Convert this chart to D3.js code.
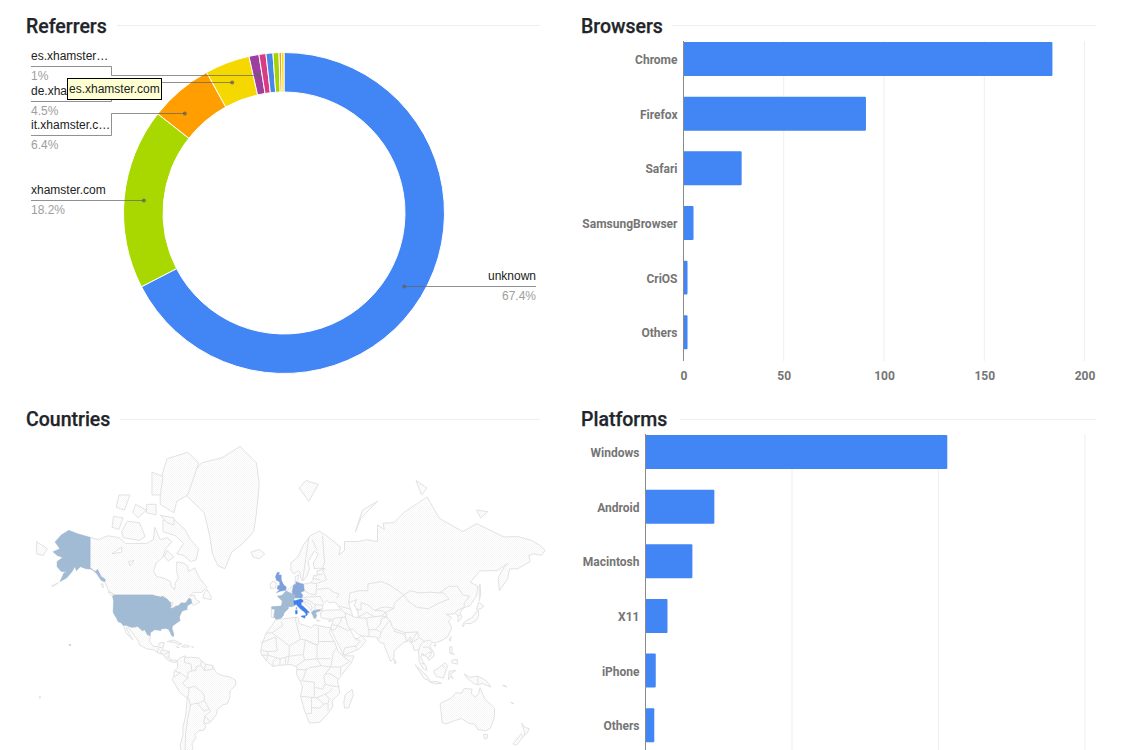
<!DOCTYPE html>
<html><head><meta charset="utf-8">
<script src="https://cdn.jsdelivr.net/npm/d3@7"></script>
<style>html,body{margin:0;background:#fff;overflow:hidden}svg{display:block}</style></head>
<body><svg id="c" width="1131" height="750"><defs><pattern id="hatch" width="2" height="2" patternUnits="userSpaceOnUse"><rect width="2" height="2" fill="#ffffff"/><rect width="1" height="1" fill="#f6f6f6"/><rect x="1" y="1" width="1" height="1" fill="#f6f6f6"/></pattern></defs></svg>
<script>
// ---------- data ----------
const panelTitles = ["Referrers","Browsers","Countries","Platforms"];
const referrerNames = ["unknown","xhamster.com","it.xhamster.c…","de.xhamster…","es.xhamster…","a","b","c","d","e"];
const referrerValues = [67.4,18.2,6.4,4.5,1,0.7,0.7,0.6,0.25,0.25];
const referrerLabels = ["67.4%","18.2%","6.4%","4.5%","1%"];
const referrerColors = ["#4285f4","#a8d800","#ff9e00","#f5d800","#9c3f9e","#d93c84","#4a86e8","#a4d400","#ff9e00","#f5d800"];
const calloutPercent = [33.7,76.5,87.55,94.0,97.1];
const browserNames = ["Chrome","Firefox","Safari","SamsungBrowser","CriOS","Others"];
const browserValues = [184,91,29,5,2,2];
const browserTicks = [0,50,100,150,200];
const platformNames = ["Windows","Android","Macintosh","X11","iPhone","Others"];
const platformValues = [206,47,32,15,7,6];
const platformTicks = [0,100,200,300];
const tooltipText = "es.xhamster.com";

// lon/lat outlines
const countryNames = ["United States","Alaska","Hawaii","United Kingdom","Germany","France","Corsica","Spain","Italy","Sardinia","Sicily","Greece"];
const countryLevels = [1,1,1,4,3,1,1,1,10,10,10,1.2];
const usa = [[-124.7,48.4],[-123,49],[-95.2,49],[-94.6,48.7],[-89.6,48],[-88.4,48.3],[-84.9,46.9],[-83.5,45.8],[-82.5,45.3],[-82.1,43.6],[-82.9,42],[-79,42.8],[-79,43.3],[-76.5,43.6],[-75,45],[-71.5,45],[-70.3,46.2],[-69.2,47.4],[-67.8,47.1],[-67,44.9],[-70,43.7],[-70.7,42],[-70,41.7],[-74,40.7],[-75.5,38.5],[-76,36.9],[-75.5,35.3],[-78,33.9],[-81,32],[-81.4,30.5],[-80.1,26.8],[-80.4,25.2],[-81.8,26],[-82.8,28],[-84,30],[-86,30.4],[-89.5,30.2],[-89.4,29],[-91,29.3],[-94,29.6],[-97.2,27.7],[-97.2,25.9],[-99.2,26.4],[-101.4,29.8],[-103,29],[-104.9,30.6],[-106.5,31.8],[-108.2,31.4],[-111,31.3],[-114.8,32.5],[-117.1,32.5],[-118.5,34],[-120.6,34.6],[-122,36.9],[-123.8,39.3],[-124.3,40.4],[-124.1,43],[-124,46.3]];
const alaska = [[-141,69.6],[-141,60.3],[-137.5,58.9],[-135.5,59.7],[-133,57],[-130,55.9],[-130.5,54.8],[-133,55.5],[-136,58],[-139.5,59.8],[-144,60],[-148,60.7],[-151,59.3],[-152,60.8],[-154,59],[-158,56.5],[-163,54.9],[-160,58.5],[-157,58.8],[-162,59],[-165,60.7],[-165,62.5],[-161,63.8],[-165,64.5],[-168,65.6],[-163,66.5],[-166.5,68.4],[-162,70.2],[-156.5,71.3],[-150,70.5]];
const hawaii = [[-156,20.2],[-155,19.7],[-155.7,19],[-156,19.8]];
const uk = [[-5.5,50.1],[-3,50.7],[1.3,51.2],[1.7,52.7],[0,53.4],[-1.5,55],[-2,55.9],[-2,57.6],[-4,57.7],[-3.2,58.6],[-5,58.6],[-6.2,57],[-5.5,55.5],[-3.2,54.9],[-3,53.5],[-4.5,53.2],[-5,51.8],[-3.2,51.4]];
const germany = [[6.1,50.9],[7,53.5],[8.8,54],[8.6,55],[10,54.6],[12,54.2],[14.2,53.9],[14.8,51],[12.2,50.3],[13.7,48.8],[13,47.5],[7.6,47.6],[8.2,49],[6.2,49.5]];
const france = [[-1.8,43.4],[-1.2,46],[-4.7,48.4],[-1.6,48.7],[1.6,50.9],[4.2,50],[6.2,49.5],[8.2,49],[7.6,47.6],[6.9,46.2],[7.6,43.8],[6,43.1],[3.2,43.2],[3,42.4],[0.7,42.7]];
const corsica = [[8.6,42.4],[9.4,43],[9.5,42],[9.2,41.4],[8.7,41.7]];
const spain = [[-9,43],[-1.8,43.4],[0.7,42.7],[3,42.4],[3,42],[0,39.8],[-0.5,38.3],[-2,36.8],[-5.5,36],[-7.3,37.2],[-7,39.5],[-6.5,41.7],[-8.8,42]];
const italy = [[7.6,43.8],[6.9,46.2],[8.5,46.3],[12.2,47],[13.7,46.5],[13.7,45.6],[12.4,45.4],[12.5,44],[13.8,43.3],[16,41.8],[18.4,40],[16.9,39.9],[17,39],[16,38],[15.8,39.5],[14,40.8],[12.3,41.7],[10.5,43],[8.8,44.4]];
const sardinia = [[8.2,41],[9.7,41],[9.6,39.2],[8.5,39]];
const sicily = [[12.5,38],[15.6,38.2],[15.1,36.7],[12.6,37.6]];
const greece = [[20,39.7],[21,40.8],[24,41.3],[26.3,41.5],[26,40.8],[23.5,40.2],[22.8,39.3],[24,38],[23,37.4],[23,36.5],[21.6,36.9],[21.2,38.3]];
const countryRings = [usa,alaska,hawaii,uk,germany,france,corsica,spain,italy,sardinia,sicily,greece];

const canada = [[-141,69.6],[-135,69],[-128,70],[-120,69.5],[-115,68],[-108,68],[-100,68],[-95,69],[-94,72],[-90,69],[-85,69.5],[-81.5,68.5],[-86,66.5],[-88,64],[-93,62],[-94.8,59],[-92.5,57],[-88,56.5],[-82.5,55],[-82,52.9],[-79.5,51.5],[-79,54.5],[-76.8,56.5],[-78,58.8],[-78,62.4],[-73,62],[-70,61],[-69.5,59],[-65,60.3],[-61.5,56.5],[-56,52.5],[-60,50.2],[-66,50.2],[-69,48.5],[-65,49],[-64.5,47],[-61,45.5],[-66,43.7],[-67,44.9],[-67.8,47.1],[-69.2,47.4],[-70.3,46.2],[-71.5,45],[-75,45],[-76.5,43.6],[-79,43.3],[-79,42.8],[-82.9,42],[-82.1,43.6],[-82.5,45.3],[-83.5,45.8],[-84.9,46.9],[-88.4,48.3],[-89.6,48],[-94.6,48.7],[-95.2,49],[-123,49],[-127,50.5],[-130,54.5],[-130,55.9],[-133,57],[-135.5,59.7],[-137.5,58.9],[-141,60.3]];
const arctic = [
 [[-80,73.7],[-72,71.5],[-68,69],[-62,66.5],[-64,63],[-68,62.5],[-73,64.5],[-78,65],[-73,68],[-79,70],[-88,71],[-88,73.5]],
 [[-117,69.5],[-105,68.8],[-101,69.8],[-105,73],[-114,73.3],[-118,71]],
 [[-125,72],[-120,71.5],[-117,74],[-124,74.3]],
 [[-90,76.5],[-80,75],[-78,77],[-70,78],[-62,82],[-70,83],[-85,82.4],[-90,80]],
 [[-100,75],[-93,74.6],[-93,76.5],[-100,76.5]],
 [[-110,75],[-106,74],[-100,75.5],[-108,76.5]],
 [[-122,76],[-116,75.5],[-112,78],[-120,78]],
 [[-96,78],[-90,78],[-88,80.5],[-96,81]],
 [[-59,47.6],[-53,46.7],[-53,48.5],[-56,51.5],[-58,50]],
 [[-128,50.5],[-125,50],[-123.5,48.5],[-125.5,48.7]],
 [[-133,54],[-131.5,54],[-131.5,52.2]],
 [[-85,73],[-80,72.5],[-80,74],[-90,74.5]],
 [[-85,66],[-80,64],[-84,62.7],[-87,64]]
];
const greenland = [[-73,78.3],[-68,80.5],[-60,82],[-45,82.5],[-32,83.5],[-20,82],[-18,79.5],[-20,75],[-22,71],[-30,68],[-38,65.5],[-43,60],[-48,61],[-52,65],[-54,70],[-58,75]];
const centralAmerica = [[-117.1,32.5],[-114.8,32.5],[-111,31.3],[-108.2,31.4],[-106.5,31.8],[-104.9,30.6],[-103,29],[-101.4,29.8],[-99.2,26.4],[-97.2,25.9],[-97.8,22.3],[-95,18.6],[-91.5,18.5],[-90.5,21],[-87,21.4],[-88.5,16],[-83.3,15],[-83.7,11],[-81.5,9],[-77.4,8.7],[-78.2,7.5],[-80.5,7.3],[-83,8.3],[-85.7,10],[-87.7,13],[-91.5,14],[-94.5,16.2],[-100,17],[-105.5,20],[-105.5,22],[-109,26],[-113,31],[-114.7,30.8],[-112,26.5],[-109.8,23],[-112,24.8],[-115,28],[-116,31]];
const caribbean = [[[-84.8,22],[-80,23],[-74.2,20.2],[-77.5,19.9],[-78.5,21]],[[-74.4,18.5],[-71.5,19.8],[-68.4,18.5],[-71,18]],[[-78.3,18.4],[-76.3,18.2],[-77,17.8]],[[-67.2,18.4],[-65.7,18.3],[-66,18]]];
const southAmerica = [[-77.4,8.7],[-75.5,10.7],[-72,12],[-71.5,10.8],[-68,11],[-62,10.7],[-60,8.5],[-57,6],[-52,5],[-50,1],[-48,-1],[-44,-2.5],[-40,-3],[-35.3,-5.5],[-35,-9],[-39,-13],[-39.5,-18],[-41,-22],[-44.5,-23],[-48.5,-26],[-49,-29],[-53.5,-34],[-56,-34.8],[-58.4,-34.2],[-57,-36.5],[-58,-38.5],[-62,-39],[-65,-41],[-64,-42.5],[-67,-46],[-66,-48],[-69,-51],[-68.5,-52.5],[-74,-52],[-75.5,-47],[-73.5,-41],[-73.5,-37],[-71.5,-30],[-70.3,-18.5],[-76,-14],[-81.2,-5],[-80,-2.5],[-80,0.8],[-78.5,2],[-77.3,4],[-77.5,7]];
const africa = [[-6,35.8],[10,37.3],[11,33.5],[15.5,32.3],[20,31],[22,32.8],[32,31],[34.2,31.2],[33,28],[37,21],[39.5,15],[43,12],[51,12],[49,7],[42,-1.5],[39,-6],[40.5,-15],[35,-20],[35.5,-24],[32.5,-28],[26,-34],[18.5,-34.5],[15,-27],[12,-17],[13.5,-10],[9,-1],[9.5,4],[5,5.8],[-4,5.2],[-8,4.4],[-13,8.5],[-17,14.7],[-16,20],[-13,27.5],[-9.5,31.5]];
const eurasia = [[-9,43],[-1.8,43.4],[-1.2,46],[-4.7,48.4],[-1.6,48.7],[1.6,50.9],[4,52],[8,54],[8.2,57],[10.6,57.7],[10,55],[12,54.2],[14.2,53.9],[19,54.4],[21,55.5],[21.5,57.5],[24,57.2],[24,59.3],[28,59.7],[30,60],[25,60.2],[22,60],[21.3,62],[25,65],[22,65.8],[17.5,62.5],[18.5,60],[16.5,57],[14.3,55.5],[12.8,55.5],[11.2,58.9],[10.6,59.2],[7,58],[5,59.5],[5,62],[10,64],[14,67.5],[19,70],[25.7,71.1],[31,70],[41,67],[40,64.7],[44,66],[44,68.5],[54,68.5],[60,69],[68,68.5],[68,72.5],[73,71.5],[72,72.9],[80,73],[87,75],[104,77.7],[113,73.9],[130,71],[140,72.8],[160,69.7],[170,69.8],[180,68.8],[186,67.5],[190,66],[187,64.5],[182,65],[178,64.5],[179,62.5],[170,60],[164,59.9],[162.5,56],[156.7,51],[155.6,56.5],[160,60.5],[163,62],[155,59.3],[142.5,59.2],[135.5,54.7],[141,53],[140,48.5],[135,43.5],[131,42.7],[128,40],[129.4,37],[126.5,34.5],[126.5,37.7],[125,39.5],[121.5,39],[118,39],[122,37],[119.5,35],[122,31],[119,25],[114,22.3],[110,21],[108,21.5],[106,19],[109,14],[109,11.5],[105,8.8],[104.8,10.5],[100.5,13.5],[99.5,10.5],[103.5,4],[104,1.5],[101,3],[98.3,8],[97.8,16],[94.5,16],[94,19],[91,22.5],[87,21.3],[80,15.5],[80,10.5],[77.5,8],[73,19],[72.5,21],[70,21],[67,25],[61.5,25.2],[57,25.7],[54,26.7],[50,30],[48,30],[50,26.5],[51.5,24],[54,24],[56.3,26],[59.8,22.5],[55,17],[45,13],[43,13],[39,21],[35,28],[34.2,31.2],[36,36],[30,36.3],[27,37],[26.5,40],[29,41],[31.5,41.2],[36,41.3],[41.5,41.5],[39,44],[37.5,45.3],[35,45.5],[33,45],[31,46.5],[28.5,44.5],[28,41.5],[26,40.8],[24,40.8],[23,36.5],[21.5,37],[19.5,41],[19,42.2],[14,45.2],[12.4,45.4],[12.5,44],[16,41.8],[18.4,40],[16.5,38],[15.7,40],[12.5,41.5],[10.5,43],[8.8,44.4],[6,43.1],[3.2,43.2],[3,42],[0,39.8],[-0.5,38.3],[-2,36.8],[-5.5,36],[-6.5,37],[-9,37],[-9.3,39]];
const islands = [
 [[-179.9,68.5],[-172,66.5],[-175,64.5],[-179.9,65]],
 [[-24,65.5],[-18,66.3],[-14,65],[-18,63.4],[-22.5,64]],
 [[-10,52],[-6,52.2],[-5.6,54.6],[-8,55.2],[-10,54]],
 [[44.5,-16],[49.5,-12.2],[50.4,-16],[47,-25],[44,-25],[43.5,-21]],
 [[113.5,-22],[114,-26],[115,-34.3],[118,-35],[124,-33],[129,-31.7],[135,-34.8],[138.5,-35],[141,-38.2],[146.5,-39],[150,-37.5],[153,-31],[153,-25],[146,-19],[142.5,-11],[141.5,-15],[139,-17.5],[136,-15],[136.8,-12],[131,-11.5],[129,-15],[125,-14.5],[122,-18]],
 [[145,-41],[148,-41],[147.8,-43],[146,-43.5]],
 [[172.7,-34.5],[175,-37],[178.4,-37.8],[176.5,-40.5],[175,-41.5],[174.5,-38.8]],
 [[172.5,-40.7],[174.2,-41.8],[171,-45],[169,-46.7],[166.5,-46],[170.5,-42.5]],
 [[95.3,5.6],[104,-2.5],[106,-6],[102,-4.5],[98.5,1]],
 [[105.5,-6.8],[111,-6.5],[114.5,-7.8],[110,-8.2]],
 [[109,1.5],[112,3],[117,7],[119,5],[117.5,1],[116,-4],[111,-3],[109.5,-1]],
 [[119.5,-5.5],[120,0.8],[125,1.5],[121,-1],[123,-4.5],[121,-3]],
 [[131,-1],[135,-3.5],[141,-2.6],[147,-6],[150.5,-10.5],[144,-7.8],[141,-9],[138,-8],[133,-4]],
 [[120.5,18.5],[122.2,18.2],[122,14],[124,13],[120.5,14]],
 [[122,9],[126,9.5],[126,6],[122,7]],
 [[130,31.5],[131.5,33.5],[136,33.5],[140,35.5],[141.5,38],[141.5,41],[140,40.5],[136.5,36.8],[132,35],[129.8,33]],
 [[140,41.6],[141.5,45.4],[145.3,43.4],[143,42]],
 [[142,46],[143,49.5],[142.5,54],[142,52]],
 [[120.2,23],[121.5,25.2],[121,22.2]],
 [[108.8,19.3],[110.5,20],[110,18.4]],
 [[80,9.7],[81.8,7.5],[80.5,6]],
 [[52,71],[56,74],[68,77],[57,75.5],[54,73]],
 [[11,79],[16,80],[25,79.5],[18,77]],
 [[96,80],[104,79],[100,78]],
 [[140,75.5],[148,75.2],[143,74]],
 [[32.3,35],[34.5,35.5],[33.5,34.6]],
 [[23.5,35.5],[26.3,35.3],[24.5,34.9]],
 [[-169,53],[-166,54],[-164,54.5],[-168,53]],
 [[-178,-17.5],[-177,-17],[-177.5,-18.5]],
 [[160,-9],[162,-10.5],[159,-9.5]],
 [[165,-21],[167,-22],[165.5,-21.8]]
];
const caspian = [[47,45],[53,46.8],[51,44],[54,40],[54,37],[50,37.5],[49,40.5]];
const greatLakes = [[[-92,46.8],[-88,48.5],[-84.8,47],[-87,46.5]],[[-87.5,42],[-86.2,44],[-85,46],[-88,44.5]],[[-84,43.7],[-81,45.5],[-81.5,43.3]],[[-112,61],[-109,62.8],[-113,62.5]],[[-125,65],[-118,67],[-118,65.5]]];
const borders = [
 [[-92.2,14.5],[-91,17.8],[-89,17.9],[-88.3,18.5]],[[-89.2,15.9],[-89.8,14],[-87.8,13.4]],[[-83.2,14.9],[-87,13]],[[-85.7,11],[-83.7,11]],[[-83,8.3],[-82.7,9.5]],
 [[-72,12],[-72.5,7.5],[-67.5,6],[-67,1.2],[-70,0],[-69.8,-4.2]],[[-60,8.5],[-60.7,5.2],[-64,4],[-64,1.5],[-67,1.2]],[[-57,6],[-58,1.5],[-52,2.3],[-52,5]],[[-60.7,5.2],[-58,1.5]],[[-80,-3.4],[-75.5,-0.2],[-77.8,0.4],[-79,1.6]],[[-75.5,-0.2],[-70,-4.2],[-74,-7.5],[-70.5,-11],[-69,-11],[-69.5,-16],[-70.3,-18.5]],[[-69,-11],[-65,-10],[-60,-13.7],[-58,-16.5],[-57.8,-20],[-54.5,-25.5],[-53.5,-27.2],[-57.5,-30.2],[-53.4,-33.8]],[[-69.5,-18],[-68,-23],[-65,-22],[-62.6,-22],[-58,-20]],[[-62.6,-22],[-58,-27.2],[-54.5,-25.5]],[[-68,-23],[-70.2,-33],[-71.5,-40],[-72,-50],[-69,-52]],[[-58.4,-34],[-57.5,-30.2]],
 [[-2,35],[-1.2,32.2],[-8.7,27.7],[-13,27.5]],[[-8.7,27.7],[4,19],[12,23.5],[10,30],[8,37]],[[-17,21],[-6,25],[-5,15.5],[-12,15],[-16.5,16]],[[-11.5,12.5],[-5,10.5],[-2.8,10],[1,11],[3.6,11.7],[4,19]],[[-12,15],[-11.5,12.5],[-13,8.5]],[[-16.7,12.4],[-11.5,12.5]],[[-8,4.4],[-8,8],[-5,10.5]],[[-3,5],[-2.8,10]],[[1,6],[1,11]],[[2.7,6.3],[3.6,11.7],[14,13]],[[14,13],[15.5,23],[24,19.5],[24,10],[15,9],[14,13]],[[12,23.5],[15.5,23],[24,19.5],[25,20],[25,31.5]],[[25,22],[37,22]],[[24,10],[27,5],[34,4],[36,14.5],[38.5,18]],[[24,10],[34,10]],[[8.7,4.5],[15,9]],[[9.5,2.2],[16,2],[18.5,3.5],[27,5]],[[16,2],[14,-4.5],[12.2,-6]],[[13,-6],[22,-7],[22,-11],[24,-11],[28,-12],[30,-8.5],[29,-3],[30,-1],[34,4]],[[34,4],[41,4],[48,8],[43,11.5]],[[41,4],[41,-1.6]],[[34,-1],[39.2,-4.7]],[[30,-1],[34,-1]],[[30,-8.5],[34,-9.5],[40.4,-10.5]],[[12,-17],[22,-18],[24,-18],[30,-15.5],[33,-14],[35,-11.5]],[[22,-11],[22,-18]],[[20,-18],[20,-28.5],[16.5,-28.5]],[[24,-18],[29,-22.3],[26,-25],[20,-24.8]],[[29,-22.3],[32,-22],[33,-19],[30,-15.5]],[[32,-22],[32,-26.8]],
 [[-7.3,37.2],[-7,39.5],[-6.5,41.7],[-8.8,42]],[[4.2,50],[6.1,50.9],[7,53.5]],[[14.8,51],[18.8,49.5],[23,49],[23.5,51.5],[23.8,54.2],[19.5,54.4]],[[13,47.5],[17,48],[22.5,48.2],[26.5,48.2],[28.2,45.5]],[[13.7,46.5],[16.2,46.8],[19,46],[22.5,44.2],[22.5,41.3],[21,40.8]],[[22.5,44.2],[28.5,43.8]],[[22.5,41.3],[26.3,41.6],[28,42]],[[19.5,41],[20.6,42.5],[19,44.5],[16,45.5],[13.7,45.6]],[[13.5,55.3],[18,69.5]],[[20.5,69],[24,66]],[[28,70],[29.5,62],[28,60.4]],[[24,57.8],[28,57.8]],[[21,56.3],[26.5,55.7]],[[23.5,51.5],[32,52.2],[36,50.3],[40,49.5],[38.2,47.2]],[[23.8,54.2],[31,55.7],[28,59.7]],
 [[26.3,41.6],[26,40.8]],[[36,36.6],[42,37.2],[44.8,37.2],[44.5,39.7],[48.8,38.4]],[[44.5,39.7],[41.5,41.5]],[[40,43.4],[48.5,41.8]],[[42,37.2],[41,34.3],[39,32.3],[36,32.5],[35.5,33.5]],[[39,32.3],[46.5,29],[48,30]],[[44.8,37.2],[46,33],[48,30]],[[48.8,38.4],[50,37.5]],[[54,37],[60,36.7],[61,31.5],[62,29.4],[61.5,25.2]],[[60,36.7],[65,37.5],[71,38],[74.8,37.3]],[[61,29.5],[66.5,29.8],[70,33],[71,36.5],[74.8,37.3]],[[66.5,29.8],[70.5,28],[74,32.5],[77,35.5],[74.8,37.3]],[[70.5,28],[69.5,24.3],[68.2,23.8]],[[43,13],[44,17.5],[52,19],[55.6,22],[51.5,24]],[[52,19],[53,16.6]],[[35,29.5],[37,29.5],[39,32.3]],
 [[53,42],[56,41.3],[56,45.2],[61,44],[66,41],[70,42.5],[74,43],[80,42.2]],[[53,42],[54,40]],[[54,37.3],[60,40],[66,37.5]],[[66,41],[71,41],[74,40],[71,38]],[[47,45],[48,50],[55,51],[61,51],[61,54],[71,55],[77,53.5],[83,51],[87,49]],[[87,49],[80,45],[80,42.2],[74,40],[74.8,37.3]],[[87,49],[92,51],[98,50],[106,50.3],[113,50],[120,53],[126,53],[130,49],[135,48.5],[131,45],[131,42.7]],[[87,49],[91,45.5],[97,42.7],[105,42],[112,44.8],[120,47],[116,50],[113,50]],[[77,35.5],[79,31],[81,30],[88,27.8],[97,28.3],[98.5,24.5],[102,22],[106,23],[108,21.5]],[[81,30],[80,28.7],[88,26.5],[88,27.8]],[[88,26.5],[89,22],[92,25],[92.5,21],[94,24],[97,28.3]],[[92.5,21],[98.5,24.5]],[[98,16],[99.5,20],[101,21.5],[102,22]],[[101,18],[105,18.2],[107.5,15],[106,11.5],[104.8,10.5]],[[100,13],[102.5,12],[105,14.3],[107.5,14.7]],[[100,6.5],[102,6.2]],[[131,42.7],[127,41.5],[124.4,40]],[[126.2,38],[128.5,38.6]],[[115,5],[116,4.2],[117,4]],[[141,-2.6],[141,-9]]
];
const landRings = [canada,greenland,centralAmerica,southAmerica,africa,eurasia].concat(arctic,caribbean,islands);

// ---------- drawing ----------
const svg = d3.select("#c");
const titleFont = "Roboto, sans-serif";
const titleX = [26,581,26,581], titleY = [32.5,32.5,425.5,425.5], ruleStart=[117,672,120,680], ruleEnd=[540,1096,540,1096], ruleY=[25.5,25.5,419.5,419.5];
panelTitles.forEach((t,i)=>{
  svg.append("line").attr("x1",ruleStart[i]).attr("x2",ruleEnd[i]).attr("y1",ruleY[i]).attr("y2",ruleY[i]).attr("stroke","#eeeeee");
  svg.append("text").attr("x",titleX[i]).attr("y",titleY[i]).text(t)
     .attr("font-family",titleFont).attr("font-weight",500).attr("font-size",19.5).attr("fill","#212529")
     .attr("stroke","#212529").attr("stroke-width",0.25);
});

// map
const mapScale = 78.8;
const projection = d3.geoMercator().scale(mapScale).translate([284,672.5]);
// Chukotka runs past the antimeridian in the reference, so longitudes over 180 stay on the east side
const place = p => {
  if (p[0] <= 180) return projection(p);
  const q = projection([p[0]-360,p[1]]);
  return [q[0]+2*Math.PI*mapScale,q[1]];
};
const ringPath = r => d3.line()(r.map(place))+"Z";
const open = r => d3.line()(r.map(place));
const map = svg.append("g");
const coast = "#e2e2e2";
map.selectAll("path.land").data(landRings).join("path").attr("class","land").attr("d",ringPath)
   .attr("fill","url(#hatch)").attr("stroke",coast).attr("stroke-width",1).attr("stroke-linejoin","round");
map.selectAll("path.inner").data([caspian].concat(greatLakes)).join("path").attr("class","inner").attr("d",ringPath)
   .attr("fill","#ffffff").attr("stroke",coast).attr("stroke-width",1);
map.selectAll("path.border").data(borders).join("path").attr("class","border").attr("d",open)
   .attr("fill","none").attr("stroke",coast).attr("stroke-width",1);
const mapColor = d3.scaleLinear().domain([1,4,10]).range(["#a2bbd5","#7b9fdc","#3f7ff0"]);
map.selectAll("path.hot").data(countryRings).join("path").attr("class","hot").attr("d",ringPath)
   .attr("fill",(d,i)=>mapColor(countryLevels[i])).attr("stroke",(d,i)=>d3.color(mapColor(countryLevels[i])).darker(0.15)).attr("stroke-width",0.4);

// donut
const cx=284, cy=213, rO=160.5, rI=121;
const pie = d3.pie().sort(null).value(d=>d);
const arc = d3.arc().innerRadius(rI).outerRadius(rO);
const donut = svg.append("g").attr("transform",`translate(${cx},${cy})`);
donut.selectAll("path").data(pie(referrerValues)).join("path").attr("d",arc)
  .attr("fill",(d,i)=>referrerColors[i]).attr("stroke","#fff").attr("stroke-width",1);
const pctAngle = d3.scaleLinear().domain([0,100]).range([0,2*Math.PI]);
const anchor = p => arc.centroid({startAngle:pctAngle(p),endAngle:pctAngle(p)});
const labelLineY = [286,200,135,101,66];
const labelLeft = 31, labelElbow = 111, labelRight = 536;
const lines = svg.append("g");
calloutPercent.forEach((p,i)=>{
  const [ax,ay]=anchor(p), x=ax+cx, y=Math.round(ay+cy)+0.5, ly=labelLineY[i]+0.5;
  const right = i===0;
  const pts = right ? [[x,y],[labelRight,y]]
    : Math.abs(ly-y)<1.5 ? [[x,y],[labelLeft,y]]
    : [[x,y],[labelElbow+0.5,y],[labelElbow+0.5,ly],[labelLeft,ly]];
  lines.append("path").attr("d",d3.line()(pts)).attr("fill","none").attr("stroke","#636363").attr("stroke-opacity",.7);
  lines.append("circle").attr("cx",x).attr("cy",y).attr("r",2).attr("fill","#636363").attr("fill-opacity",.8);
  const tx = right?labelRight:labelLeft, anchorName = right?"end":"start";
  lines.append("text").attr("x",tx).attr("y",ly-6.5).attr("text-anchor",anchorName).text(referrerNames[i])
    .attr("font-family","Arial, 'Liberation Sans', sans-serif").attr("font-size",12).attr("fill","#222");
  lines.append("text").attr("x",tx).attr("y",ly+13.5).attr("text-anchor",anchorName).text(referrerLabels[i])
    .attr("font-family","Arial, 'Liberation Sans', sans-serif").attr("font-size",12).attr("fill","#9e9e9e");
});
// tooltip
svg.append("rect").attr("x",67.5).attr("y",78.5).attr("width",94).attr("height",21).attr("fill","#ffffd2").attr("stroke","#000");
svg.append("text").attr("x",69).attr("y",93).text(tooltipText).attr("font-family","Arial, 'Liberation Sans', sans-serif").attr("font-size",12).attr("fill","#222");

// bars
function barPanel(names,values,ticks,x0,x1,yTop,yBottom,axisTop,axisBottom,axisLabelY){
  const x = d3.scaleLinear().domain([ticks[0],ticks[ticks.length-1]]).range([x0,x1]);
  const y = d3.scaleBand().domain(names).range([yTop,yBottom]).paddingInner(0.378).paddingOuter(0.189);
  const g = svg.append("g");
  g.selectAll("line.grid").data(ticks.slice(1)).join("line").attr("class","grid")
    .attr("x1",x).attr("x2",x).attr("y1",axisTop).attr("y2",axisBottom).attr("stroke","#eeeeee");
  g.selectAll("rect").data(values).join("rect").attr("x",x0).attr("y",(d,i)=>y(names[i]))
    .attr("width",d=>x(d)-x0).attr("height",y.bandwidth()).attr("rx",1).attr("fill","#4285f4");
  g.append("line").attr("x1",x0).attr("x2",x0).attr("y1",axisTop).attr("y2",axisBottom).attr("stroke","#8a8a8a");
  const left = g.append("g").attr("transform",`translate(${x0},0)`).call(d3.axisLeft(y).tickSize(0).tickPadding(6));
  left.select(".domain").remove();
  left.selectAll("text").attr("dy","0.42em");
  if (axisLabelY !== null) {
    const bottom = g.append("g").attr("transform",`translate(0,${axisLabelY})`).call(d3.axisBottom(x).tickValues(ticks).tickSize(0).tickPadding(0));
    bottom.select(".domain").remove();
  }
  g.selectAll("text").attr("font-family","Roboto, sans-serif").attr("font-weight",700).attr("font-size",12).attr("fill","#757575");
}
barPanel(browserNames,browserValues,browserTicks,683.5,1084.5,31.7,359.6,41,361,371.5);
barPanel(platformNames,platformValues,platformTicks,645.5,1085,424.7,752.5,434,750,null);
</script></body></html>
